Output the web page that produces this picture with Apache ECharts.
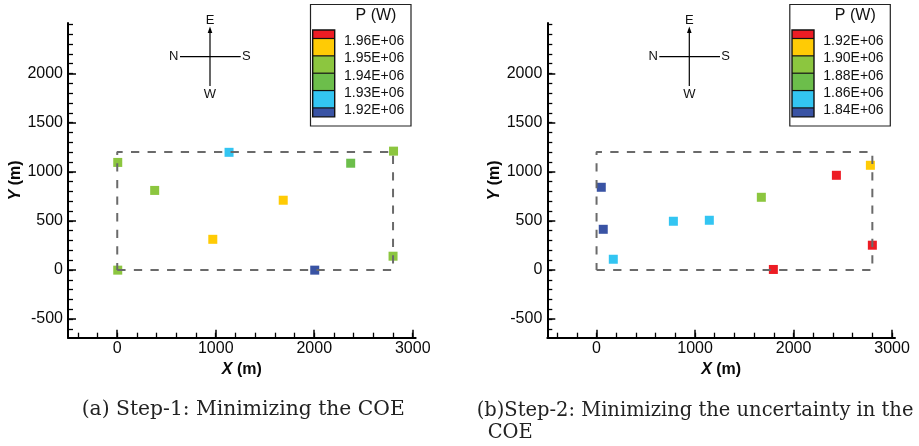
<!DOCTYPE html>
<html><head><meta charset="utf-8">
<script src="https://cdn.jsdelivr.net/npm/echarts@6/dist/echarts.min.js"></script>
<style>html,body{margin:0;padding:0;background:#fff}#c{width:919px;height:446px}</style>
</head><body><div id="c"></div>
<script>
// ---- data ----
const leftX = [5, 380, 1135, 1685, 970, 2005, 2370, 2805, 2800, 5];
const leftY = [1095, 810, 1198, 710, 312, -2, 1087, 1210, 140, -2];
const leftP = [1.945e6, 1.945e6, 1.925e6, 1.955e6, 1.955e6, 1.915e6, 1.935e6, 1.945e6, 1.945e6, 1.945e6];
const rightX = [48, 68, 170, 780, 1145, 1673, 1795, 2435, 2780, 2800];
const rightY = [842, 414, 109, 496, 506, 740, 5, 964, 1066, 252];
const rightP = [1.835e6, 1.835e6, 1.85e6, 1.85e6, 1.85e6, 1.89e6, 1.925e6, 1.925e6, 1.91e6, 1.925e6];
const boundaryX = [0, 2800, 2800, 0, 0];
const boundaryY = [0, 0, 1200, 1200, 0];
const leftLevels = [1.92e6, 1.93e6, 1.94e6, 1.95e6, 1.96e6];
const rightLevels = [1.84e6, 1.86e6, 1.88e6, 1.90e6, 1.92e6];
const leftLevelLabels = ['1.92E+06', '1.93E+06', '1.94E+06', '1.95E+06', '1.96E+06'];
const rightLevelLabels = ['1.84E+06', '1.86E+06', '1.88E+06', '1.90E+06', '1.92E+06'];
const bandColors = ['#3953a4', '#33c5f2', '#6cbe4b', '#8cc63f', '#ffcb05', '#ed1c24'];
const xLabelTicks = [0, 1000, 2000, 3000];
const xMinorTicks = [-400, -200, 0, 200, 400, 600, 800, 1000, 1200, 1400, 1600, 1800, 2000, 2200, 2400, 2600, 2800, 3000];
const yLabelTicks = [-500, 0, 500, 1000, 1500, 2000];
const yMinorTicks = [-600, -500, -400, -300, -200, -100, 0, 100, 200, 300, 400, 500, 600, 700, 800, 900, 1000, 1100, 1200, 1300, 1400, 1500, 1600, 1700, 1800, 1900, 2000, 2100, 2200, 2300, 2400, 2500];
const legendTitle = 'P (W)';
const captionA = '(a) Step-1: Minimizing the COE';
const captionB1 = '(b)Step-2: Minimizing the uncertainty in the';
const captionB2 = 'COE';

// ---- layout ----
const SANS = '"Liberation Sans", Arial, sans-serif';
const SERIF = '"DejaVu Serif", serif';
const X_MIN = -500, X_MAX = 3030, Y_MIN = -690, Y_MAX = 2515;
const gridW = 347.7, gridH = 314.7, gridTop = 23;
const gridLefts = [68, 547.3];
const panelShift = 479.3;
const plain = v => String(v);

function xAxes(gi) {
  const base = {type: 'value', gridIndex: gi, min: X_MIN, max: X_MAX, position: 'bottom', splitLine: {show: false}};
  return [
    Object.assign({}, base, {
      axisLine: {show: true, onZero: false, lineStyle: {color: '#000', width: 2}},
      axisTick: {show: true, inside: true, length: 8, customValues: xLabelTicks, lineStyle: {color: '#000', width: 1.5}},
      axisLabel: {customValues: xLabelTicks, formatter: plain, margin: 3, fontSize: 16, color: '#0a0a0a', fontFamily: SANS},
      name: '{i|X} (m)', nameLocation: 'middle', nameGap: 13,
      nameTextStyle: {fontSize: 16, fontWeight: 'bold', color: '#0a0a0a', fontFamily: SANS,
        rich: {i: {fontSize: 16, fontWeight: 'bold', fontStyle: 'italic', fontFamily: SANS, color: '#0a0a0a'}}}
    }),
    Object.assign({}, base, {
      axisLine: {show: false, onZero: false},
      axisTick: {show: true, inside: true, length: 5, customValues: xMinorTicks, lineStyle: {color: '#000', width: 1.3}},
      axisLabel: {show: false}
    })
  ];
}
function yAxes(gi) {
  const base = {type: 'value', gridIndex: gi, min: Y_MIN, max: Y_MAX, position: 'left', splitLine: {show: false}};
  return [
    Object.assign({}, base, {
      axisLine: {show: true, onZero: false, lineStyle: {color: '#000', width: 2}},
      axisTick: {show: true, inside: true, length: 8, customValues: yLabelTicks, lineStyle: {color: '#000', width: 1.5}},
      axisLabel: {customValues: yLabelTicks, formatter: plain, margin: 5, fontSize: 16, color: '#0a0a0a', fontFamily: SANS},
      name: '{i|Y} (m)', nameLocation: 'middle', nameGap: 35,
      nameTextStyle: {fontSize: 16, fontWeight: 'bold', color: '#0a0a0a', fontFamily: SANS,
        rich: {i: {fontSize: 16, fontWeight: 'bold', fontStyle: 'italic', fontFamily: SANS, color: '#0a0a0a'}}}
    }),
    Object.assign({}, base, {
      axisLine: {show: false, onZero: false},
      axisTick: {show: true, inside: true, length: 5, customValues: yMinorTicks, lineStyle: {color: '#000', width: 1.3}},
      axisLabel: {show: false}
    })
  ];
}
function pieces(levels) {
  const p = [{lt: levels[0], color: bandColors[0]}];
  for (let i = 0; i < levels.length - 1; i++) p.push({gte: levels[i], lt: levels[i + 1], color: bandColors[i + 1]});
  p.push({gte: levels[levels.length - 1], color: bandColors[levels.length]});
  return p;
}
function zip3(a, b, c) { return a.map((v, i) => [v, b[i], c[i]]); }
function zip2(a, b) { return a.map((v, i) => [v, b[i]]); }

const measureCtx = document.createElement('canvas').getContext('2d');
function fitFont(text, targetW, family) {
  measureCtx.font = '20px ' + family;
  const w = measureCtx.measureText(text).width;
  return 20 * targetW / w;
}

function legendGraphics(ox, labels) {
  const g = [];
  g.push({type: 'rect', shape: {x: ox + 310.5, y: 4.5, width: 100.5, height: 121.5}, style: {fill: '#fff', stroke: '#222', lineWidth: 1.2}, z: 10});
  g.push({type: 'text', x: ox + 376, y: 15.5, style: {text: legendTitle, font: '16px ' + SANS, fill: '#111', align: 'center', verticalAlign: 'middle'}, z: 11});
  const bx = ox + 312.7, bw = 22, top = 30, step = 17.35, endH = 8.5;
  const edges = [top];
  for (let i = 0; i < labels.length; i++) edges.push(top + endH + i * step);
  edges.push(top + endH + (labels.length - 1) * step + endH + 0.5);
  const nb = edges.length - 1;
  for (let i = 0; i < nb; i++) {
    g.push({type: 'rect', shape: {x: bx, y: edges[i], width: bw, height: edges[i + 1] - edges[i]}, style: {fill: bandColors[nb - 1 - i]}, z: 11});
  }
  for (let i = 1; i < nb; i++) {
    g.push({type: 'line', shape: {x1: bx, y1: edges[i], x2: bx + bw, y2: edges[i]}, style: {stroke: '#111', lineWidth: 1.2}, z: 12});
    g.push({type: 'text', x: ox + 344, y: edges[i] + 2.5, style: {text: labels[labels.length - i], font: '14px ' + SANS, fill: '#111', verticalAlign: 'middle'}, z: 12});
  }
  g.push({type: 'rect', shape: {x: bx, y: edges[0], width: bw, height: edges[nb] - edges[0]}, style: {fill: 'none', stroke: '#111', lineWidth: 1.4}, z: 12});
  return g;
}
function compassGraphics(ox) {
  const cx = ox + 210, cy = 56.7;
  const f = '13px ' + SANS;
  return [
    {type: 'line', shape: {x1: cx, y1: 29, x2: cx, y2: 86}, style: {stroke: '#000', lineWidth: 1.2}},
    {type: 'polygon', shape: {points: [[cx, 26.5], [cx - 2.3, 33], [cx + 2.3, 33]]}, style: {fill: '#000'}},
    {type: 'line', shape: {x1: cx - 30, y1: cy, x2: cx + 30.7, y2: cy}, style: {stroke: '#000', lineWidth: 1.2}},
    {type: 'text', x: cx, y: 20.5, style: {text: 'E', font: f, fill: '#111', align: 'center', verticalAlign: 'middle'}},
    {type: 'text', x: cx, y: 94.3, style: {text: 'W', font: f, fill: '#111', align: 'center', verticalAlign: 'middle'}},
    {type: 'text', x: cx - 31.5, y: cy, style: {text: 'N', font: f, fill: '#111', align: 'right', verticalAlign: 'middle'}},
    {type: 'text', x: cx + 32, y: cy, style: {text: 'S', font: f, fill: '#111', align: 'left', verticalAlign: 'middle'}}
  ];
}

const fsA = fitFont(captionA, 323, SERIF);
const fsB = fitFont(captionB1, 437, SERIF);

const chart = echarts.init(document.getElementById('c'), null, {renderer: 'canvas'});
const option = {
  animation: false,
  backgroundColor: '#fff',
  grid: gridLefts.map(l => ({left: l, top: gridTop, width: gridW, height: gridH, containLabel: false, show: false})),
  xAxis: xAxes(0).concat(xAxes(1)),
  yAxis: yAxes(0).concat(yAxes(1)),
  visualMap: [
    {type: 'piecewise', show: false, seriesIndex: 0, dimension: 2, pieces: pieces(leftLevels)},
    {type: 'piecewise', show: false, seriesIndex: 2, dimension: 2, pieces: pieces(rightLevels)}
  ],
  series: [
    {type: 'scatter', xAxisIndex: 0, yAxisIndex: 0, symbol: 'rect', symbolSize: 9, z: 2, itemStyle: {opacity: 1}, data: zip3(leftX, leftY, leftP)},
    {type: 'line', xAxisIndex: 0, yAxisIndex: 0, showSymbol: false, symbol: 'none', z: 3, silent: true,
      lineStyle: {color: '#6a6a6a', width: 2, type: [8.3, 8.3]}, data: zip2(boundaryX, boundaryY)},
    {type: 'scatter', xAxisIndex: 2, yAxisIndex: 2, symbol: 'rect', symbolSize: 9, z: 2, itemStyle: {opacity: 1}, data: zip3(rightX, rightY, rightP)},
    {type: 'line', xAxisIndex: 2, yAxisIndex: 2, showSymbol: false, symbol: 'none', z: 3, silent: true,
      lineStyle: {color: '#6a6a6a', width: 2, type: [8.3, 8.3]}, data: zip2(boundaryX, boundaryY)}
  ],
  graphic: [].concat(
    legendGraphics(0, leftLevelLabels),
    legendGraphics(panelShift, rightLevelLabels),
    compassGraphics(0),
    compassGraphics(panelShift),
    [
      {type: 'text', x: 81.7, y: 410, style: {text: captionA, font: fsA.toFixed(2) + 'px ' + SERIF, fill: '#222', verticalAlign: 'middle'}},
      {type: 'text', x: 476.7, y: 411, style: {text: captionB1, font: fsB.toFixed(2) + 'px ' + SERIF, fill: '#222', verticalAlign: 'middle'}},
      {type: 'text', x: 487.7, y: 433, style: {text: captionB2, font: fsB.toFixed(2) + 'px ' + SERIF, fill: '#222', verticalAlign: 'middle'}}
    ]
  )
};
chart.setOption(option);
</script>
</body></html>
